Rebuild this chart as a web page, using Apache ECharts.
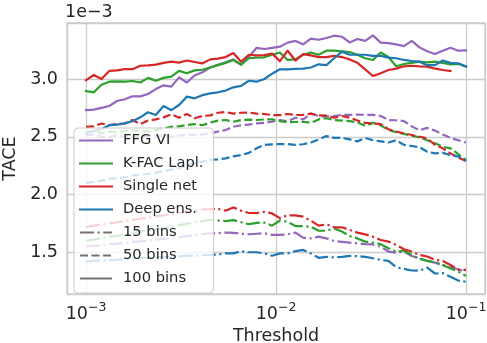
<!DOCTYPE html>
<html>
<head>
<meta charset="utf-8">
<script src="https://cdn.jsdelivr.net/npm/echarts@6/dist/echarts.min.js"></script>
<style>html,body{margin:0;padding:0;background:#fff;}#c{width:487px;height:343px;}</style>
</head>
<body>
<div id="c"></div>
<script>
// Thresholds (log-spaced, 1e-3 .. 1e-1)
const thresholds = [0.001,0.0010985,0.0012068,0.0013257,0.0014563,0.0015999,0.0017575,0.0019307,0.002121,0.00233,
0.0025595,0.0028118,0.0030888,0.0033932,0.0037276,0.0040949,0.0044984,0.0049417,0.0054287,0.0059636,
0.0065513,0.0071969,0.007906,0.0086851,0.009541,0.0104811,0.011514,0.0126486,0.013895,0.0152642,
0.0167683,0.0184207,0.0202359,0.02223,0.0244205,0.026827,0.0294705,0.0323746,0.0355648,0.0390694,
0.0429193,0.0471487,0.0517947,0.0568987,0.0625055,0.0686649,0.0754312,0.0828643,0.0910298,0.1];

// TACE values (x 1e-3)
const ffg100 = [2.73,2.735,2.75,2.766,2.81,2.825,2.85,2.85,2.87,2.913,2.945,2.934,3.014,2.97,3.03,3.058,3.10,3.124,3.144,3.17,
3.124,3.19,3.27,3.26,3.27,3.28,3.315,3.33,3.30,3.35,3.34,3.355,3.375,3.366,3.317,3.346,3.33,3.378,3.315,3.31,
3.30,3.285,3.33,3.274,3.24,3.216,3.245,3.27,3.245,3.248];
const kfac100 = [2.896,2.885,2.95,2.977,2.98,2.977,2.983,2.97,3.01,2.985,3.01,3.02,3.07,3.05,3.075,3.08,3.10,3.12,3.14,3.165,
3.124,3.18,3.185,3.188,3.21,3.23,3.165,3.17,3.21,3.23,3.21,3.245,3.245,3.24,3.234,3.21,3.18,3.165,3.23,3.19,
3.11,3.13,3.14,3.15,3.144,3.15,3.14,3.127,3.13,3.107];
const single100 = [2.99,3.035,3.0,3.07,3.075,3.085,3.085,3.115,3.118,3.124,3.14,3.15,3.142,3.16,3.147,3.135,3.17,3.176,3.19,3.225,
3.15,3.21,3.205,3.207,3.22,3.155,3.245,3.16,3.216,3.205,3.19,3.19,3.20,3.19,3.17,3.14,3.084,3.026,3.05,3.078,
3.09,3.11,3.115,3.11,3.107,3.09,3.078,3.07,null,null];
const deep100 = [2.53,2.55,2.565,2.60,2.605,2.616,2.635,2.668,2.712,2.688,2.766,2.73,2.775,2.847,2.833,2.86,2.876,2.885,2.90,2.928,
2.94,2.985,2.977,3.0,3.046,3.084,3.084,3.087,3.09,3.10,3.127,3.12,3.18,3.237,3.21,3.21,3.21,3.20,3.20,3.185,
3.18,3.165,3.156,3.15,3.12,3.12,3.16,3.14,3.136,3.11];

const ffg50 = [2.51,2.52,2.50,2.50,2.51,2.50,2.49,2.50,2.50,2.505,2.51,2.50,2.51,2.52,2.515,2.52,2.53,2.544,2.558,2.587,
2.60,2.605,2.616,2.62,2.63,2.645,2.635,2.665,2.65,2.70,2.68,2.675,2.68,2.69,2.69,2.692,2.69,2.69,2.68,2.645,
2.643,2.636,2.59,2.556,2.577,2.553,2.52,2.49,2.47,2.45];
const kfac50 = [2.54,2.55,2.53,2.545,2.54,2.55,2.555,2.55,2.544,2.56,2.573,2.587,2.59,2.602,2.61,2.60,2.622,2.64,2.645,2.63,
2.645,2.648,2.645,2.65,2.65,2.636,2.625,2.628,2.63,2.62,2.65,2.66,2.645,2.64,2.636,2.625,2.594,2.62,2.60,2.558,
2.54,2.525,2.51,2.495,2.47,2.443,2.414,2.40,2.35,2.298];
const single50 = [2.585,2.59,2.615,2.60,2.61,2.615,2.645,2.61,2.64,2.65,2.668,2.694,2.665,2.697,2.66,2.68,2.685,2.708,2.714,2.70,
2.708,2.71,2.70,2.697,2.688,2.688,2.697,2.688,2.69,2.70,2.685,2.683,2.665,2.68,2.665,2.64,2.62,2.616,2.61,2.565,
2.544,2.53,2.515,2.50,2.486,2.43,2.40,2.356,2.32,2.29];
const deep50 = [2.10,2.11,2.12,2.135,2.14,2.15,2.165,2.17,2.18,2.19,2.20,2.215,2.23,2.25,2.27,2.285,2.30,2.305,2.313,2.33,
2.342,2.36,2.40,2.43,2.434,2.437,2.437,2.43,2.435,2.45,2.477,2.506,2.49,2.49,2.477,2.46,2.49,2.47,2.46,2.45,
2.47,2.43,2.42,2.41,2.37,2.356,2.36,2.34,2.33,2.29];

const ffg15 = [1.55,1.555,1.56,1.57,1.575,1.58,1.59,1.595,1.60,1.61,1.615,1.625,1.63,1.64,1.65,1.655,1.664,1.665,1.67,1.668,
1.66,1.656,1.66,1.665,1.65,1.65,1.655,1.67,1.626,1.62,1.635,1.62,1.597,1.59,1.583,1.577,1.57,1.568,1.548,1.506,
1.497,1.506,1.468,1.448,1.428,1.41,1.39,1.37,1.353,1.333];
const kfac15 = [1.60,1.61,1.62,1.635,1.64,1.66,1.665,1.68,1.69,1.70,1.71,1.72,1.735,1.745,1.76,1.77,1.779,1.775,1.77,1.778,
1.76,1.743,1.755,1.757,1.73,1.775,1.764,1.727,1.727,1.72,1.686,1.686,1.706,1.68,1.64,1.62,1.592,1.583,1.57,1.535,
1.506,1.515,1.477,1.443,1.425,1.41,1.39,1.36,1.333,1.295];
const single15 = [1.72,1.73,1.74,1.75,1.76,1.77,1.78,1.79,1.80,1.81,1.82,1.83,1.84,1.85,1.86,1.87,1.874,1.875,1.86,1.888,
1.86,1.84,1.84,1.85,1.836,1.795,1.82,1.82,1.808,1.774,1.73,1.742,1.716,1.716,1.693,1.67,1.655,1.635,1.606,1.592,
1.563,1.526,1.506,1.477,1.463,1.434,1.425,1.39,1.347,1.347];
const deep15 = [1.42,1.425,1.43,1.43,1.435,1.44,1.445,1.45,1.45,1.455,1.46,1.46,1.465,1.47,1.47,1.475,1.476,1.48,1.49,1.49,
1.51,1.50,1.50,1.49,1.47,1.49,1.49,1.51,1.52,1.49,1.452,1.46,1.455,1.46,1.468,1.466,1.46,1.448,1.434,1.425,
1.37,1.356,1.342,1.34,1.367,1.316,1.32,1.287,1.255,1.244];

const methods = ['FFG VI','K-FAC Lapl.','Single net','Deep ens.'];
const binLabels = ['15 bins','50 bins','100 bins'];
const colors = ['#9467bd','#2ca02c','#d62728','#1f77b4'];
const tables = [[ffg15,ffg50,ffg100],[kfac15,kfac50,kfac100],[single15,single50,single100],[deep15,deep50,deep100]];

const FONT = 'DejaVu Sans';
const TXT = '#262626';
const LW = 2.2;
const dashTypes = [[14,3.5,2.2,3.5],[8,3.5],'solid'];

const series = [];
for (let b = 0; b < 3; b++) {
  for (let m = 0; m < 4; m++) {
    const vals = tables[m][b];
    series.push({
      name: b === 2 ? methods[m] : methods[m] + ' ' + binLabels[b],
      type: 'line',
      symbol: 'none',
      data: thresholds.map((t, i) => [t, vals[i]]),
      connectNulls: false,
      lineStyle: {color: colors[m], width: LW, type: dashTypes[b], cap: b === 2 ? 'square' : 'butt', join: 'round'},
      itemStyle: {color: colors[m]},
      emphasis: {disabled: true},
      z: 2 + m
    });
  }
}
for (let b = 0; b < 3; b++) {
  series.push({
    name: binLabels[b], type: 'line', symbol: 'none', data: [],
    lineStyle: {color: '#737373', width: LW, type: dashTypes[b]},
    itemStyle: {color: '#737373'}
  });
}

const chart = echarts.init(document.getElementById('c'), null, {renderer: 'canvas'});
chart.setOption({
  animation: false,
  backgroundColor: '#ffffff',
  textStyle: {fontFamily: FONT},
  title: {
    text: '1e\u22123', left: 65, top: 3, padding: 0,
    textStyle: {fontFamily: FONT, fontSize: 17.5, fontWeight: 'normal', color: TXT}
  },
  grid: {left: 67, right: 2, top: 23, bottom: 49, show: true, borderColor: '#cccccc', borderWidth: 1.3,
         containLabel: false, outerBoundsMode: 'none'},
  legend: {
    orient: 'vertical', left: 74, top: 128, z: 10,
    data: methods.concat(binLabels),
    itemWidth: 32, itemHeight: 14, itemGap: 8,
    padding: [5, 10, 7, 5],
    backgroundColor: 'rgba(255,255,255,0.8)',
    borderColor: '#cccccc', borderWidth: 1, borderRadius: 4,
    selectedMode: false,
    itemStyle: {opacity: 0},
    textStyle: {fontFamily: FONT, fontSize: 14.7, color: TXT, padding: [0, 0, 0, 6]}
  },
  xAxis: {
    type: 'log', logBase: 10,
    min: Math.pow(10, -3.1), max: Math.pow(10, -0.9),
    name: 'Threshold', nameLocation: 'middle', nameGap: 29,
    nameTextStyle: {fontFamily: FONT, fontSize: 17.5, color: TXT},
    axisLine: {show: false}, axisTick: {show: false},
    minorTick: {show: false}, minorSplitLine: {show: false},
    splitLine: {show: true, lineStyle: {color: '#cccccc', width: 1.3}},
    axisLabel: {
      showMinLabel: false, showMaxLabel: false, margin: 7,
      formatter: function (v) {
        const e = Math.round(Math.log10(v));
        return '{b|10}{s|\u2212' + Math.abs(e) + '}';
      },
      rich: {
        b: {fontFamily: FONT, fontSize: 17.5, color: TXT, lineHeight: 22, verticalAlign: 'bottom'},
        s: {fontFamily: FONT, fontSize: 12.5, color: TXT, lineHeight: 14, verticalAlign: 'top'}
      }
    }
  },
  yAxis: {
    type: 'value', min: 1.1385, max: 3.485, splitNumber: 5,
    name: 'TACE', nameLocation: 'middle', nameGap: 41,
    nameTextStyle: {fontFamily: FONT, fontSize: 17.5, color: TXT},
    axisLine: {show: false}, axisTick: {show: false},
    splitLine: {show: true, lineStyle: {color: '#cccccc', width: 1.3}},
    axisLabel: {
      showMinLabel: false, showMaxLabel: false, margin: 9,
      fontFamily: FONT, fontSize: 17.5, color: TXT,
      formatter: function (v) { return v.toFixed(1); }
    }
  },
  series: series
});
</script>
</body>
</html>
